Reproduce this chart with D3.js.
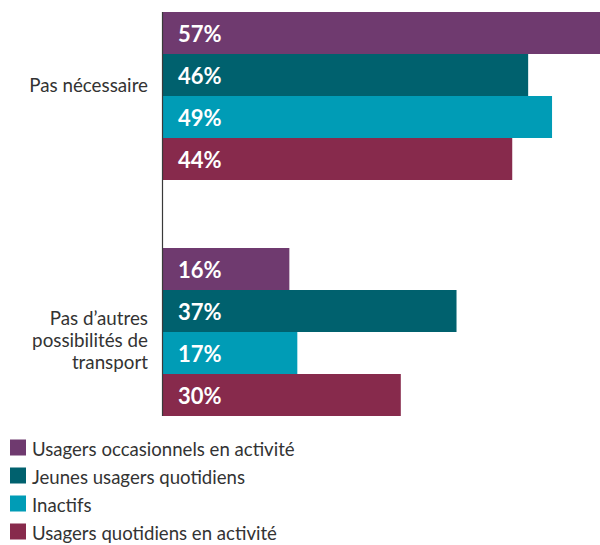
<!DOCTYPE html>
<html>
<head>
<meta charset="utf-8">
<script src="https://cdn.jsdelivr.net/npm/d3@7"></script>
<style>
  html, body { margin: 0; padding: 0; background: #fff; overflow: hidden; }
  svg { display: block; }
</style>
</head>
<body>
<div id="chart"></div>
<script>
const categories = ["Pas nécessaire", "Pas d’autres possibilités de transport"];
const categoryLines = [["Pas nécessaire"], ["Pas d’autres", "possibilités de", "transport"]];
const seriesNames = ["Usagers occasionnels en activité", "Jeunes usagers quotidiens", "Inactifs", "Usagers quotidiens en activité"];
const seriesColors = ["#6f3a6f", "#00616e", "#009cb6", "#872a4c"];
const occasionnels = [57, 16];
const jeunes = [46, 37];
const inactifs = [49, 17];
const quotidiens = [44, 30];
const seriesValues = [occasionnels, jeunes, inactifs, quotidiens];

const W = 600, H = 545;
const svg = d3.select("#chart").append("svg")
  .attr("width", W).attr("height", H)
  .style("font-family", "Lato, 'Noto Sans', sans-serif");

const x0 = 162;
const x = d3.scaleLinear().domain([0, 60]).range([x0, x0 + 477.6]);
const y = d3.scaleBand().domain(categories).range([12, 416]).paddingInner(68 / 236).paddingOuter(0);
const ys = d3.scaleBand().domain(seriesNames).range([0, y.bandwidth()]).padding(0);

const data = [];
categories.forEach((c, ci) => {
  seriesNames.forEach((s, si) => {
    data.push({ cat: c, ser: s, si, value: seriesValues[si][ci] });
  });
});

const g = svg.append("g");
g.selectAll("rect.bar").data(data).join("rect")
  .attr("class", "bar")
  .attr("x", x(0))
  .attr("y", d => y(d.cat) + ys(d.ser))
  .attr("width", d => x(d.value) - x(0))
  .attr("height", ys.bandwidth())
  .attr("fill", d => seriesColors[d.si]);

g.selectAll("text.val").data(data).join("text")
  .attr("class", "val")
  .attr("x", x(0) + 16)
  .attr("y", d => y(d.cat) + ys(d.ser) + ys.bandwidth() / 2 + 8.5)
  .attr("fill", "#fff")
  .attr("font-size", 22)
  .attr("font-weight", "bold")
  .text(d => d.value + "%");

// axis line
svg.append("line")
  .attr("x1", x0 + 0.5).attr("x2", x0 + 0.5)
  .attr("y1", y.range()[0]).attr("y2", y.range()[1])
  .attr("stroke", "#3a3a3a").attr("stroke-width", 1.2);

// category labels
categories.forEach((c, ci) => {
  const lines = categoryLines[ci];
  const cy = y(c) + y.bandwidth() / 2;
  const first = cy - 4 - (lines.length - 1) * 1.5;
  const t = svg.append("text")
    .attr("text-anchor", "end")
    .attr("fill", "#333")
    .attr("font-size", 18.8);
  lines.forEach((l, li) => {
    t.append("tspan").attr("x", 148).attr("y", first + li * 22).text(l);
  });
});

// legend
const leg = svg.append("g");
seriesNames.forEach((s, si) => {
  const by = 455.5 + si * 28;
  leg.append("rect").attr("x", 10).attr("y", by - 16).attr("width", 16).attr("height", 16)
    .attr("fill", seriesColors[si]);
  leg.append("text").attr("x", 32).attr("y", by).attr("font-size", 18.6).attr("fill", "#333").text(s);
});
</script>
</body>
</html>
